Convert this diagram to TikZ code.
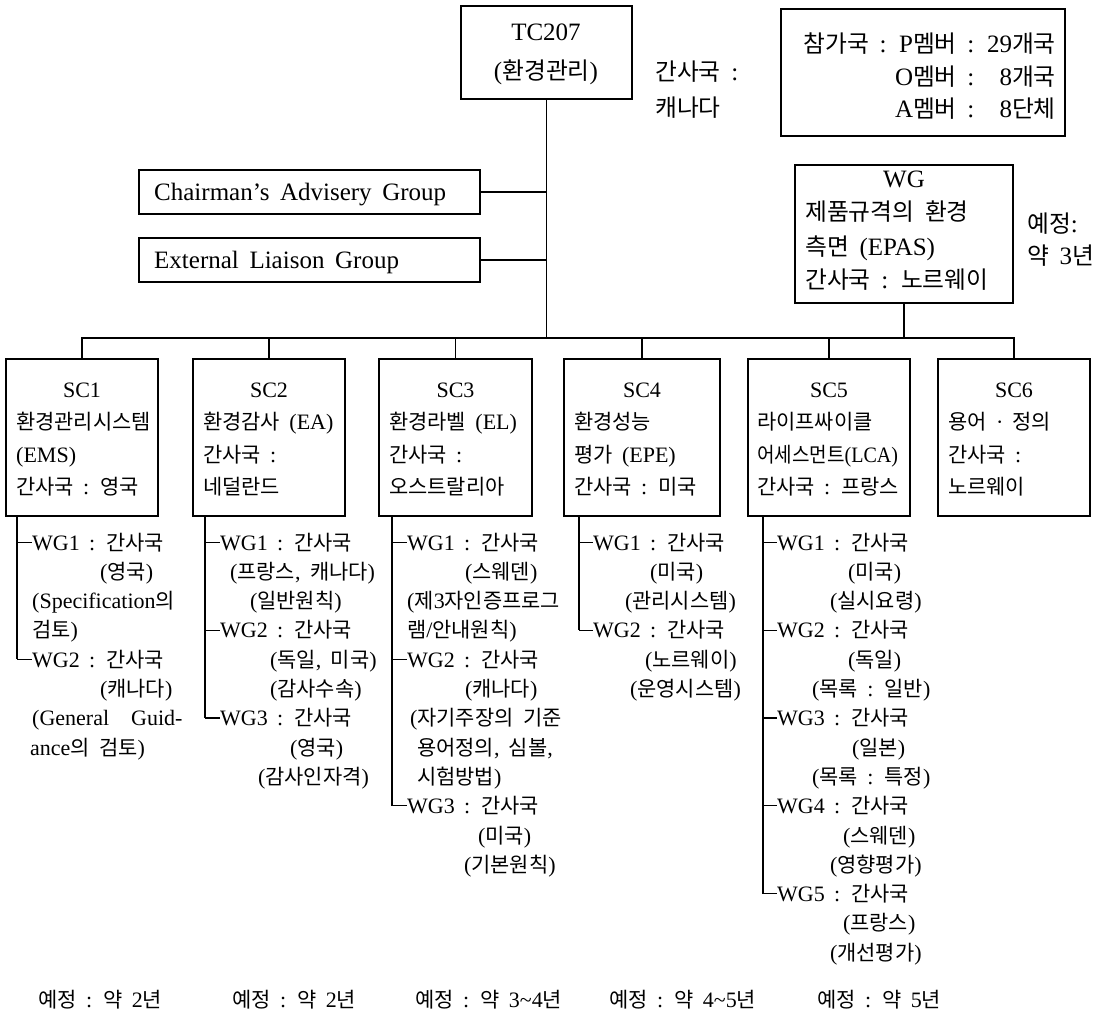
\documentclass[tikz,border=0pt]{standalone}
\usepackage{graphicx}
\usepackage{fontspec}
\setmainfont{Liberation Serif}[WordSpace=1.7]
\newfontfamily\krfont{Noto Sans CJK KR}[Scale=0.95]
\XeTeXinterchartokenstate=1
\newXeTeXintercharclass\krclass
\newcount\krc
\krc="AC00
\loop
  \XeTeXcharclass\krc=\krclass
  \ifnum\krc<"D7A3 \advance\krc by 1 \repeat
\XeTeXinterchartoks 0 \krclass = {\krfont}
\XeTeXinterchartoks 4095 \krclass = {\krfont}
\XeTeXinterchartoks \krclass 0 = {\rmfamily}
\XeTeXinterchartoks \krclass 4095 = {\rmfamily}
\newcommand\boxat[5]{\node[box,minimum width={(#4-#2)*1pt},minimum height={(#5-#3)*1pt}] (#1) at ({(#2+#4)/2},{(#3+#5)/2}) {};}
\begin{document}
\begin{tikzpicture}[x=1pt,y=-1pt,
  box/.style={draw,line width=1.1pt,inner sep=0pt,rectangle},
  big/.style={font=\fontsize{25}{30}\selectfont},
  sm/.style={font=\fontsize{22}{26}\selectfont},
  tl/.style={inner sep=0pt,anchor=base west},
  tc/.style={inner sep=0pt,anchor=base},
  tr/.style={inner sep=0pt,anchor=base east},
  ln/.style={line width=1.1pt}]
\path[use as bounding box] (0,0) rectangle (1096,1023);
% boxes
\boxat{tc}{461}{6}{632}{99}
\boxat{mem}{781}{9}{1065}{136}
\boxat{cag}{139}{170}{480}{214}
\boxat{elg}{139}{238}{480}{282}
\boxat{wg}{795}{165}{1013}{303}
\boxat{sc1}{6}{359}{158}{516}
\boxat{sc2}{193}{359}{345}{516}
\boxat{sc3}{379}{359}{532}{516}
\boxat{sc4}{564}{359}{720}{516}
\boxat{sc5}{748}{359}{910}{516}
\boxat{sc6}{938}{359}{1090}{516}
% top texts
\node[big,tc] (tct1) at (546,40) {TC207};
\node[big,tc] (tct2) at (546,79) {(환경관리)};
\node[big,tl] (sec1) at (655,80) {간사국 :};
\node[big,tl] (sec2) at (655,116) {캐나다};
\node[big,tr] (m1) at (1056,52) {참가국 : P멤버 : 29개국};
\node[big,tr] (m2) at (1056,85) {O멤버 : \phantom{2}8개국};
\node[big,tr] (m3) at (1056,117) {A멤버 : \phantom{2}8단체};
\node[big,tl] (cagt) at (154,200) {Chairman's Advisery Group};
\node[big,tl] (elgt) at (154,268) {External Liaison Group};
\node[big,tc] (wgt1) at (904,187) {WG};
\node[big,tl] (wgt2) at (805,220) {제품규격의 환경};
\node[big,tl] (wgt3) at (805,255) {측면 (EPAS)};
\node[big,tl] (wgt4) at (805,288) {간사국 : 노르웨이};
\node[big,tl] (wgp1) at (1027,232) {예정:};
\node[big,tl] (wgp2) at (1027,264) {약 3년};
% SC box texts
\foreach \n/\cx/\lx/\a/\b/\c/\d in {
  sc1/82/16/SC1/환경관리시스템/(EMS)/간사국 : 영국,
  sc2/269/203/SC2/환경감사 (EA)/간사국 :/네덜란드,
  sc3/455.5/389/SC3/환경라벨 (EL)/간사국 :/오스트랄리아,
  sc4/642/574/SC4/환경성능/평가 (EPE)/간사국 : 미국,
  sc5/829/757/SC5/라이프싸이클/{\scalebox{0.91}[1]{어세스먼트(LCA)}}/간사국 : 프랑스,
  sc6/1014/948/SC6/용어 · 정의/간사국 :/노르웨이}{
  \node[sm,tc] (\n t0) at (\cx,397) {\a};
  \node[sm,tl] (\n t1) at (\lx,429) {\b};
  \node[sm,tl] (\n t2) at (\lx,462) {\c};
  \node[sm,tl] (\n t3) at (\lx,494) {\d};
}
% lists
\foreach \i/\xx/\t in {0/32/{WG1 : 간사국},1/100/{(영국)},2/32/{(Specification의},3/32/{검토)},
  4/32/{WG2 : 간사국},5/100/{(캐나다)},6/32/{(General\hspace{22pt}Guid-},7/30/{ance의 검토)}}
  \node[sm,tl] (s1l\i) at (\xx,550+29.3*\i) {\t};
\foreach \i/\xx/\t in {0/220/{WG1 : 간사국},1/230/{(프랑스, 캐나다)},2/250/{(일반원칙)},
  3/220/{WG2 : 간사국},4/270/{(독일, 미국)},5/270/{(감사수속)},
  6/220/{WG3 : 간사국},7/290/{(영국)},8/258/{(감사인자격)}}
  \node[sm,tl] (s2l\i) at (\xx,550+29.3*\i) {\t};
\foreach \i/\xx/\t in {0/407/{WG1 : 간사국},1/465/{(스웨덴)},2/407/{(제3자인증프로그},3/407/{램/안내원칙)},
  4/407/{WG2 : 간사국},5/465/{(캐나다)},6/410/{(자기주장의 기준},7/417/{용어정의, 심볼,},8/417/{시험방법)},
  9/407/{WG3 : 간사국},10/478/{(미국)},11/464/{(기본원칙)}}
  \node[sm,tl] (s3l\i) at (\xx,550+29.3*\i) {\t};
\foreach \i/\xx/\t in {0/593/{WG1 : 간사국},1/650/{(미국)},2/625/{(관리시스템)},
  3/593/{WG2 : 간사국},4/645/{(노르웨이)},5/630/{(운영시스템)}}
  \node[sm,tl] (s4l\i) at (\xx,550+29.3*\i) {\t};
\foreach \i/\xx/\t in {0/777/{WG1 : 간사국},1/848/{(미국)},2/830/{(실시요령)},
  3/777/{WG2 : 간사국},4/848/{(독일)},5/812/{(목록 : 일반)},
  6/777/{WG3 : 간사국},7/852/{(일본)},8/812/{(목록 : 특정)},
  9/777/{WG4 : 간사국},10/843/{(스웨덴)},11/830/{(영향평가)},
  12/777/{WG5 : 간사국},13/843/{(프랑스)},14/830/{(개선평가)}}
  \node[sm,tl] (s5l\i) at (\xx,550+29.3*\i) {\t};
% bottom labels
\node[sm,tl] (p1) at (38,1007) {예정 : 약 2년};
\node[sm,tl] (p2) at (232,1007) {예정 : 약 2년};
\node[sm,tl] (p3) at (415,1007) {예정 : 약 3\textasciitilde 4년};
\node[sm,tl] (p4) at (609,1007) {예정 : 약 4\textasciitilde 5년};
\node[sm,tl] (p5) at (817,1007) {예정 : 약 5년};
% connectors
\coordinate (bar) at (0,338);
\draw[ln] (tc.south) -- (tc.south |- bar);
\draw[ln] (cag.east) -- (cag.east -| tc.south);
\draw[ln] (elg.east) -- (elg.east -| tc.south);
\draw[ln] (wg.south) -- (wg.south |- bar);
\draw[ln] (sc1.north) -- (sc1.north |- bar) -- (sc6.north |- bar) -- (sc6.north);
\foreach \s in {sc2,sc3,sc4,sc5} \draw[ln] (\s.north) -- (\s.north |- bar);
% list trunks and ticks
\coordinate (v1) at (17,0);
\coordinate (v2) at (205,0);
\coordinate (v3) at (392,0);
\coordinate (v4) at (579,0);
\coordinate (v5) at (763,0);
\draw[ln] (sc1.south -| v1) -- (v1 |- s1l4.west);
\draw[ln] (sc2.south -| v2) -- (v2 |- s2l6.west);
\draw[ln] (sc3.south -| v3) -- (v3 |- s3l9.west);
\draw[ln] (sc4.south -| v4) -- (v4 |- s4l3.west);
\draw[ln] (sc5.south -| v5) -- (v5 |- s5l12.west);
\foreach \k in {0,4} \draw[ln] (v1 |- s1l\k.west) -- (s1l\k.west);
\foreach \k in {0,3,6} \draw[ln] (v2 |- s2l\k.west) -- (s2l\k.west);
\foreach \k in {0,4,9} \draw[ln] (v3 |- s3l\k.west) -- (s3l\k.west);
\foreach \k in {0,3} \draw[ln] (v4 |- s4l\k.west) -- (s4l\k.west);
\foreach \k in {0,3,6,9,12} \draw[ln] (v5 |- s5l\k.west) -- (s5l\k.west);
\end{tikzpicture}
\end{document}
